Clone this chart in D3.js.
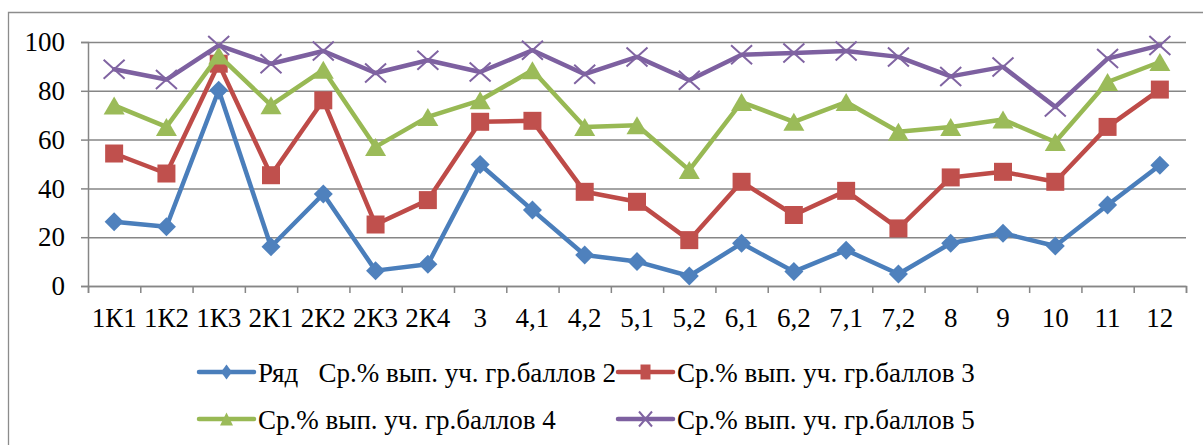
<!DOCTYPE html>
<html>
<head>
<meta charset="utf-8">
<script src="https://cdn.jsdelivr.net/npm/d3@7"></script>
<style>
  body { margin: 0; background: #fff; }
  svg { display: block; }
  svg text { font-family: "Liberation Serif", "Times New Roman", "DejaVu Serif", serif !important; fill: #000; }
</style>
</head>
<body>
<svg id="chart"></svg>
<script>
// categories on the x axis
const categories = ["1К1", "1К2", "1К3", "2К1", "2К2", "2К3", "2К4", "3", "4,1", "4,2", "5,1",
                    "5,2", "6,1", "6,2", "7,1", "7,2", "8", "9", "10", "11", "12"];
const yTicks = [0, 20, 40, 60, 80, 100];

// series values
const score2 = [26.3, 24.3, 80.2, 16.1, 37.7, 6.3, 8.9, 49.8, 31.1, 12.7, 10.0,
                4.1, 17.5, 5.9, 14.7, 4.9, 17.5, 21.6, 16.4, 33.2, 49.5];
const score3 = [54.3, 46.1, 91.1, 45.4, 76.1, 25.2, 35.2, 67.3, 67.7, 38.6, 34.5,
                18.8, 42.7, 29.1, 39.0, 23.6, 44.5, 46.8, 42.7, 65.2, 80.5];
const score4 = [74.0, 65.2, 94.5, 74.1, 88.6, 57.0, 69.3, 76.1, 88.4, 65.2, 65.9,
                47.5, 75.4, 67.3, 75.4, 63.2, 65.2, 68.2, 59.0, 83.6, 91.8];
const score5 = [88.8, 84.6, 98.6, 91.1, 96.3, 87.3, 92.5, 87.7, 96.6, 86.8, 93.9,
                84.3, 94.8, 95.5, 96.3, 93.9, 85.9, 89.8, 73.4, 93.2, 98.6];

const seriesNames = ["Ряд   Ср.% вып. уч. гр.баллов 2", "Ср.% вып. уч. гр.баллов 3",
                     "Ср.% вып. уч. гр.баллов 4", "Ср.% вып. уч. гр.баллов 5"];

const width = 1203, height = 445;
const svg = d3.select("#chart").attr("width", width).attr("height", height);

const plotLeft = 88, plotRight = 1186, plotTop = 42, plotBottom = 286;
const gridColor = "#868686";

// custom marker shapes (Excel-like)
function diamond(w, h) {
  return { draw(p) { p.moveTo(0, -h); p.lineTo(w, 0); p.lineTo(0, h); p.lineTo(-w, 0); p.closePath(); } };
}
function square(w, h) {
  return { draw(p) { p.rect(-w, -h, 2 * w, 2 * h); } };
}
function triangle(w, h) {
  return { draw(p) { p.moveTo(0, -h); p.lineTo(w, h); p.lineTo(-w, h); p.closePath(); } };
}
function cross(w, h) {
  return { draw(p) { p.moveTo(-w, -h); p.lineTo(w, h); p.moveTo(w, -h); p.lineTo(-w, h); } };
}

const series = [
  { name: seriesNames[0], values: score2, line: "#4A7EBB", fill: "#4F81BD",
    shape: diamond(9.5, 9.5), legendShape: diamond(5.5, 7.5), stroke: false },
  { name: seriesNames[1], values: score3, line: "#BE4B48", fill: "#C0504D",
    shape: square(9, 9), legendShape: square(5, 7.5), stroke: false },
  { name: seriesNames[2], values: score4, line: "#98B954", fill: "#9BBB59",
    shape: triangle(10.5, 9), legendShape: triangle(6.5, 6.5), stroke: false },
  { name: seriesNames[3], values: score5, line: "#7D60A0", fill: "#8064A2",
    shape: cross(10.5, 9.5), legendShape: cross(6.5, 7.5), stroke: true }
];

// outer chart border (left and top visible)
svg.append("path")
  .attr("d", `M8.5,${height} V12.5 H${width}`)
  .attr("fill", "none").attr("stroke", "#8c8c8c").attr("stroke-width", 1.3);

const x = d3.scaleBand().domain(categories).range([plotLeft, plotRight]).padding(0);
const xIdx = d3.scaleLinear().domain([0, categories.length]).range([plotLeft, plotRight]);
const y = d3.scaleLinear().domain([0, 100]).range([plotBottom, plotTop]);
const cx = c => x(c) + x.bandwidth() / 2;

// gridlines
svg.append("g")
  .attr("transform", `translate(${plotLeft},0)`)
  .call(d3.axisLeft(y).tickValues(yTicks).tickSize(-(plotRight - plotLeft)).tickFormat(""))
  .call(g => g.select(".domain").remove())
  .selectAll("line").attr("stroke", gridColor).attr("stroke-width", 1.5);

// y axis
const yAxis = svg.append("g")
  .attr("transform", `translate(${plotLeft},0)`)
  .call(d3.axisLeft(y).tickValues(yTicks).tickSize(7).tickPadding(16));
yAxis.attr("font-family", null).attr("font-size", null);
yAxis.select(".domain").attr("stroke", gridColor).attr("stroke-width", 1.5);
yAxis.selectAll("line").attr("stroke", gridColor).attr("stroke-width", 1.5);
yAxis.selectAll("text").attr("font-size", 27).attr("fill", "#000");

// x axis: ticks at category boundaries
const xAxis = svg.append("g").attr("transform", `translate(0,${plotBottom})`)
  .call(d3.axisBottom(xIdx).tickValues(d3.range(categories.length + 1)).tickSize(7).tickFormat(""));
xAxis.select(".domain").attr("stroke", gridColor).attr("stroke-width", 1.5);
xAxis.selectAll("line").attr("stroke", gridColor).attr("stroke-width", 1.5);

svg.append("g").selectAll("text")
  .data(categories)
  .join("text")
  .attr("x", d => cx(d))
  .attr("y", 327)
  .attr("text-anchor", "middle")
  .attr("font-size", 27)
  .text(d => d);

// lines and markers
const line = d3.line().x((d, i) => cx(categories[i])).y(d => y(d));

series.forEach(s => {
  svg.append("path")
    .datum(s.values)
    .attr("d", line)
    .attr("fill", "none")
    .attr("stroke", s.line)
    .attr("stroke-width", 4.5)
    .attr("stroke-linejoin", "round")
    .attr("stroke-linecap", "round");

  svg.append("g").selectAll("path")
    .data(s.values)
    .join("path")
    .attr("transform", (d, i) => `translate(${cx(categories[i])},${y(d)})`)
    .attr("d", d3.symbol(s.shape)())
    .attr("fill", s.stroke ? "none" : s.fill)
    .attr("stroke", s.stroke ? s.fill : "none")
    .attr("stroke-width", 2);
});

// legend
const legendPos = [
  { lx: 199, ty: 372 }, { lx: 618, ty: 372 },
  { lx: 199, ty: 419 }, { lx: 618, ty: 419 }
];
series.forEach((s, i) => {
  const p = legendPos[i];
  const g = svg.append("g").attr("transform", `translate(${p.lx},${p.ty})`);
  g.append("line").attr("x1", 0).attr("x2", 55).attr("y1", 0).attr("y2", 0)
    .attr("stroke", s.line).attr("stroke-width", 4.5).attr("stroke-linecap", "round");
  g.append("path")
    .attr("transform", "translate(27.5,0)")
    .attr("d", d3.symbol(s.legendShape)())
    .attr("fill", s.stroke ? "none" : s.fill)
    .attr("stroke", s.stroke ? s.fill : "none")
    .attr("stroke-width", 2);
  g.append("text")
    .attr("x", 59).attr("y", 10)
    .attr("font-size", 27)
    .style("white-space", "pre")
    .text(s.name);
});
</script>
</body>
</html>
